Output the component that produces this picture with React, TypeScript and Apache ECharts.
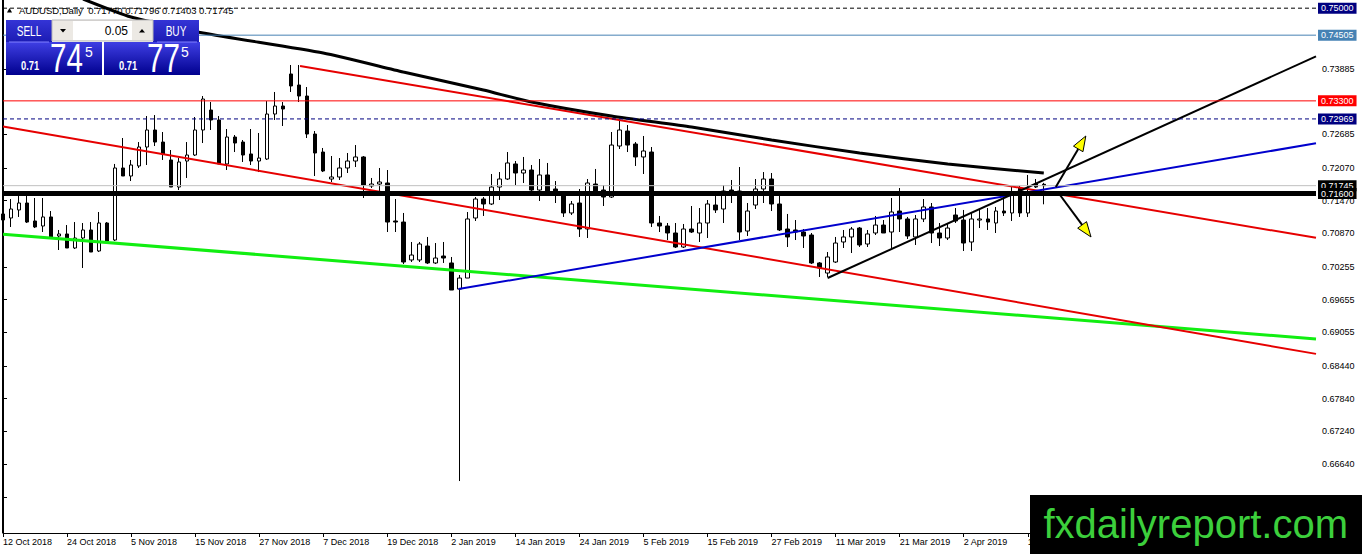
import React, { useEffect, useRef } from 'react';
import * as echarts from 'echarts';

// ---------- categories ----------
const FIRST_DAY = [2018, 9, 12];
const HOLIDAYS = ['2018-12-25', '2019-01-01'];
const TOTAL_SLOTS = 165;
const MONTHS = ['Jan', 'Feb', 'Mar', 'Apr', 'May', 'Jun', 'Jul', 'Aug', 'Sep', 'Oct', 'Nov', 'Dec'];

// ---------- daily candles (AUDUSD) ----------
const OPEN = [
  0.71226, 0.71152, 0.71299, 0.71427, 0.71097, 0.71005, 0.71171, 0.70822, 0.70859, 0.70602,
  0.70785, 0.70932, 0.70547, 0.71060, 0.70748, 0.72069, 0.71922, 0.72106, 0.72454, 0.72766,
  0.72545, 0.72216, 0.71720, 0.72197, 0.72307, 0.72766, 0.73132, 0.72949, 0.72143, 0.72637,
  0.72545, 0.72326, 0.72197, 0.72234, 0.73059, 0.73206, 0.73793, 0.73591, 0.73389, 0.72692,
  0.72362, 0.71867, 0.71904, 0.72069, 0.72197, 0.72271, 0.71739, 0.71775, 0.71794, 0.71097,
  0.71078, 0.70382, 0.70382, 0.70638, 0.70327, 0.70455, 0.70327, 0.69849, 0.70051, 0.71152,
  0.71500, 0.71409, 0.71720, 0.71867, 0.72143, 0.71977, 0.72032, 0.71665, 0.71941, 0.71684,
  0.71592, 0.71244, 0.71427, 0.70950, 0.71775, 0.71665, 0.71537, 0.72472, 0.72747, 0.72509,
  0.72271, 0.72362, 0.71060, 0.71005, 0.70877, 0.70620, 0.70950, 0.70877, 0.71060, 0.71390,
  0.71317, 0.71665, 0.71647, 0.70913, 0.71390, 0.71684, 0.71867, 0.71409, 0.70950, 0.70932,
  0.70895, 0.70840, 0.70327, 0.70143, 0.70345, 0.70712, 0.70804, 0.70968, 0.70675, 0.70877,
  0.71023, 0.70895, 0.71280, 0.71134, 0.70804, 0.71134, 0.71354, 0.70877, 0.70785, 0.71207,
  0.71115, 0.70712, 0.71115, 0.71134, 0.71060, 0.71280, 0.71244, 0.71702, 0.71244, 0.71775,
  0.71770,
];
const CLOSE = [
  0.71115, 0.71317, 0.71427, 0.71078, 0.70987, 0.71171, 0.70804, 0.70859, 0.70602, 0.70785,
  0.70932, 0.70528, 0.71060, 0.70730, 0.72069, 0.71922, 0.72124, 0.72454, 0.72766, 0.72545,
  0.72326, 0.71720, 0.72179, 0.72307, 0.72766, 0.73334, 0.72949, 0.72143, 0.72637, 0.72527,
  0.72307, 0.72197, 0.72252, 0.73059, 0.73206, 0.73151, 0.73573, 0.73389, 0.72692, 0.72344,
  0.72014, 0.71904, 0.72069, 0.72197, 0.72271, 0.71757, 0.71775, 0.71812, 0.71078, 0.71078,
  0.70345, 0.70473, 0.70675, 0.70327, 0.70418, 0.70418, 0.69831, 0.70051, 0.71134, 0.71500,
  0.71409, 0.71720, 0.71867, 0.72161, 0.71977, 0.72032, 0.71665, 0.71941, 0.71647, 0.71629,
  0.71244, 0.71409, 0.70950, 0.71794, 0.71629, 0.71537, 0.72490, 0.72766, 0.72490, 0.72271,
  0.72381, 0.71060, 0.71005, 0.70877, 0.70620, 0.70950, 0.70895, 0.71060, 0.71409, 0.71299,
  0.71647, 0.71629, 0.70895, 0.71280, 0.71684, 0.71867, 0.71409, 0.70932, 0.70804, 0.70895,
  0.70822, 0.70327, 0.70235, 0.70437, 0.70693, 0.70804, 0.70950, 0.70657, 0.70859, 0.71023,
  0.70877, 0.71262, 0.71134, 0.70822, 0.71134, 0.71354, 0.70877, 0.70785, 0.70968, 0.71097,
  0.70693, 0.71134, 0.71134, 0.71078, 0.71280, 0.71244, 0.71629, 0.71244, 0.71629, 0.71720,
  0.71745,
];
const LOW = [
  0.71023, 0.70987, 0.71171, 0.71060, 0.70968, 0.70895, 0.70804, 0.70565, 0.70602, 0.70583,
  0.70235, 0.70528, 0.70528, 0.70730, 0.70730, 0.71922, 0.71830, 0.72069, 0.72124, 0.72472,
  0.72216, 0.71720, 0.71665, 0.71886, 0.72289, 0.72527, 0.72766, 0.72143, 0.72032, 0.72362,
  0.72179, 0.72124, 0.71995, 0.72216, 0.72949, 0.72839, 0.73463, 0.73279, 0.72619, 0.71922,
  0.71995, 0.71812, 0.71849, 0.71977, 0.72087, 0.71519, 0.71702, 0.71629, 0.70895, 0.70895,
  0.70308, 0.70345, 0.70345, 0.70308, 0.70308, 0.70327, 0.69831, 0.66328, 0.70051, 0.71097,
  0.71189, 0.71390, 0.71482, 0.71849, 0.71757, 0.71794, 0.71647, 0.71464, 0.71647, 0.71427,
  0.71171, 0.71207, 0.70804, 0.70785, 0.71610, 0.71372, 0.71519, 0.72417, 0.72362, 0.72106,
  0.71959, 0.70987, 0.70895, 0.70748, 0.70602, 0.70602, 0.70877, 0.70712, 0.70785, 0.71244,
  0.71060, 0.71427, 0.70748, 0.70822, 0.71317, 0.71427, 0.71280, 0.70913, 0.70620, 0.70748,
  0.70602, 0.70308, 0.70070, 0.70070, 0.70327, 0.70602, 0.70510, 0.70620, 0.70620, 0.70840,
  0.70877, 0.70602, 0.70895, 0.70767, 0.70657, 0.71078, 0.70693, 0.70638, 0.70748, 0.71060,
  0.70547, 0.70547, 0.70968, 0.70932, 0.70877, 0.71189, 0.71097, 0.71171, 0.71171, 0.71702,
  0.71403,
];
const HIGH = [
  0.71390, 0.71500, 0.71573, 0.71573, 0.71519, 0.71519, 0.71280, 0.70932, 0.71023, 0.71078,
  0.71060, 0.71078, 0.71262, 0.71078, 0.72143, 0.72619, 0.72216, 0.72545, 0.73022, 0.73040,
  0.72729, 0.72399, 0.72252, 0.72545, 0.73004, 0.73389, 0.73279, 0.73022, 0.72784, 0.72674,
  0.72582, 0.72784, 0.72711, 0.73297, 0.73463, 0.73279, 0.73958, 0.73958, 0.73554, 0.72747,
  0.72436, 0.72289, 0.72252, 0.72344, 0.72490, 0.72289, 0.71886, 0.72069, 0.72032, 0.71500,
  0.71244, 0.70712, 0.70712, 0.70804, 0.70693, 0.70712, 0.70437, 0.70107, 0.71262, 0.71537,
  0.71537, 0.71959, 0.71995, 0.72362, 0.72197, 0.72271, 0.72124, 0.72234, 0.72161, 0.71830,
  0.71610, 0.71464, 0.71684, 0.71867, 0.72051, 0.71757, 0.72729, 0.72949, 0.72857, 0.72545,
  0.72656, 0.72454, 0.71189, 0.71060, 0.71060, 0.71042, 0.71372, 0.71335, 0.71482, 0.71555,
  0.71757, 0.71849, 0.72087, 0.71427, 0.71867, 0.71995, 0.71977, 0.71610, 0.71226, 0.71115,
  0.70950, 0.70877, 0.70345, 0.70528, 0.70804, 0.70932, 0.70987, 0.70987, 0.70932, 0.71189,
  0.71115, 0.71519, 0.71702, 0.71171, 0.71207, 0.71500, 0.71427, 0.71060, 0.71060, 0.71335,
  0.71299, 0.71262, 0.71299, 0.71335, 0.71354, 0.71555, 0.71739, 0.71739, 0.71941, 0.71867,
  0.71796,
];

const ASK = 0.71775;

// ---------- price scale ----------
const Y_MIN = 0.65375;
const Y_MAX = 0.7515;
const Y_LABELS = [0.73885, 0.72685, 0.7207, 0.7147, 0.7087, 0.70255, 0.69655, 0.69055, 0.6844, 0.6784, 0.6724, 0.6664, 0.66025];

// horizontal levels: 0.75 dashed, 0.74505, 0.733, 0.72969 dashed, bid, 0.716 support
const LEVEL_PRICES = [0.75, 0.74505, 0.733, 0.72969, 0.71745, 0.716];

// ---------- drawn objects: [bar index, price] ----------
const MA_POINTS = [
  [10, 0.75168], [16, 0.74838], [25, 0.74545], [40, 0.74178], [50, 0.7383], [60, 0.73499],
  [66, 0.73279], [76, 0.73022], [86, 0.72821], [96, 0.72582], [107, 0.72344], [118, 0.72143], [130, 0.71977],
];
const RED_UPPER = [[37.1, 0.7394], [164, 0.70788]];
const RED_LOWER = [[0, 0.7283], [164, 0.6866]];
const GREEN_LINE = [[0, 0.70855], [164, 0.68934]];
const BLUE_LINE = [[56.9, 0.69849], [164, 0.72522]];
const BLACK_TREND = [[103, 0.70051], [164, 0.74116]];
const ARROWS = [
  [131.5, 0.7172, 135.25, 0.72656],
  [131.75, 0.71629, 135.9, 0.70804],
];

const FONT = 'Liberation Sans, Arial, sans-serif';

function buildDates(): string[] {
  const out: string[] = [];
  const d = new Date(Date.UTC(FIRST_DAY[0], FIRST_DAY[1], FIRST_DAY[2]));
  while (out.length < TOTAL_SLOTS) {
    const wd = d.getUTCDay();
    const iso = d.toISOString().slice(0, 10);
    if (wd !== 0 && wd !== 6 && !HOLIDAYS.includes(iso)) {
      out.push(`${d.getUTCDate()} ${MONTHS[d.getUTCMonth()]} ${d.getUTCFullYear()}`);
    }
    d.setUTCDate(d.getUTCDate() + 1);
  }
  return out;
}

function trend(data: number[][], color: string, width: number, z: number, smooth: number | boolean = false) {
  return {
    type: 'line',
    xAxisIndex: 1,
    yAxisIndex: 0,
    data,
    smooth,
    symbol: 'none',
    showSymbol: false,
    silent: true,
    z,
    lineStyle: { color, width },
  };
}

export default function App() {
  const ref = useRef<HTMLDivElement>(null);

  useEffect(() => {
    if (!ref.current) return;
    const chart = echarts.init(ref.current, undefined, { renderer: 'svg' });
    const dates = buildDates();
    const candles = OPEN.map((o, i) => [o, CLOSE[i], LOW[i], HIGH[i]]);
    const last = OPEN.length - 1;
    const bid = CLOSE[last];

    const levelStyles = [
      { color: '#000000', bg: '#000080', type: [4, 3], width: 1 },
      { color: '#4682b4', bg: '#4682b4', type: 'solid', width: 1 },
      { color: '#ff0000', bg: '#ff0000', type: 'solid', width: 1 },
      { color: '#000080', bg: '#000080', type: [4, 3], width: 1 },
      { color: '#c0c0c0', bg: '#000000', type: 'solid', width: 1 },
      { color: '#000000', bg: '#000000', type: 'solid', width: 5 },
    ];

    const levelSeries = LEVEL_PRICES.map((p, i) => ({
      type: 'line',
      xAxisIndex: 1,
      yAxisIndex: 0,
      data: [[0, p], [164, p]],
      symbol: 'none',
      showSymbol: false,
      silent: true,
      z: 6,
      lineStyle: { color: levelStyles[i].color, type: levelStyles[i].type, width: levelStyles[i].width },
      endLabel: {
        show: true,
        distance: 2,
        formatter: () => p.toFixed(5),
        color: '#fff',
        backgroundColor: levelStyles[i].bg,
        padding: [1, 3, 1, 3],
        fontSize: 9,
        fontFamily: FONT,
      },
    }));

    const priceParts = (v: number) => {
      const s = v.toFixed(5);
      return { big: s.slice(0, 4), mid: s.slice(4, 6), small: s.slice(6) };
    };
    const sp = priceParts(bid);
    const bp = priceParts(ASK);

    const boxGrad = () =>
      new echarts.graphic.LinearGradient(0, 0, 0, 1, [
        { offset: 0, color: '#3f3fe4' },
        { offset: 1, color: '#00008e' },
      ]);
    const btnGrad = () =>
      new echarts.graphic.LinearGradient(0, 0, 0, 1, [
        { offset: 0, color: '#3434d6' },
        { offset: 1, color: '#1c1cb4' },
      ]);

    const txt = (x: number, y: number, text: string, font: string, fill: string, align = 'left', scaleX = 1) => ({
      type: 'text',
      x,
      y,
      scaleX,
      z: 70,
      style: { text, font, fill, textAlign: align, align, textVerticalAlign: 'middle', verticalAlign: 'middle' },
    });

    const graphic: any[] = [
      { type: 'line', shape: { x1: 2.5, y1: 0, x2: 2.5, y2: 533 }, style: { stroke: '#000', lineWidth: 1 }, z: 50 },
      // title
      { type: 'polygon', shape: { points: [[7, 12.5], [12, 12.5], [9.5, 8]] }, style: { fill: '#000' }, z: 60 },
      txt(19, 10.5, `AUDUSD,Daily  ${OPEN[last].toFixed(5)} ${HIGH[last].toFixed(5)} ${LOW[last].toFixed(5)} ${CLOSE[last].toFixed(5)}`, `9.5px ${FONT}`, '#000'),
      // SELL / BUY buttons
      { type: 'rect', shape: { x: 6, y: 20, width: 46, height: 22 }, style: { fill: btnGrad() }, z: 60 },
      { type: 'rect', shape: { x: 153, y: 20, width: 46, height: 22 }, style: { fill: btnGrad() }, z: 60 },
      txt(29, 31, 'SELL', `14px ${FONT}`, '#fff', 'center', 0.72),
      txt(176, 31, 'BUY', `14px ${FONT}`, '#fff', 'center', 0.72),
      // lot widget
      { type: 'rect', shape: { x: 52, y: 20, width: 101, height: 21 }, style: { fill: '#ece9e4', stroke: '#b8b8b8', lineWidth: 1 }, z: 60 },
      { type: 'rect', shape: { x: 73, y: 21, width: 59, height: 19 }, style: { fill: '#ffffff' }, z: 61 },
      { type: 'polygon', shape: { points: [[60, 29], [66, 29], [63, 32.5]] }, style: { fill: '#000' }, z: 62 },
      { type: 'polygon', shape: { points: [[139, 32.5], [145, 32.5], [142, 29]] }, style: { fill: '#000' }, z: 62 },
      txt(128, 31, '0.05', `12px ${FONT}`, '#000', 'right'),
      // price boxes
      { type: 'rect', shape: { x: 6, y: 42, width: 96, height: 33 }, style: { fill: boxGrad() }, z: 60 },
      { type: 'rect', shape: { x: 104, y: 42, width: 96, height: 33 }, style: { fill: boxGrad() }, z: 60 },
      { type: 'line', shape: { x1: 9, y1: 42, x2: 49, y2: 42 }, style: { stroke: '#8080ff', lineWidth: 1 }, z: 61 },
      { type: 'line', shape: { x1: 157, y1: 42, x2: 197, y2: 42 }, style: { stroke: '#8080ff', lineWidth: 1 }, z: 61 },
      txt(21, 66, sp.big, `bold 12px ${FONT}`, '#fff', 'left', 0.78),
      txt(50, 58, sp.mid, `40px ${FONT}`, '#fff', 'left', 0.74),
      txt(85, 52, sp.small, `14px ${FONT}`, '#fff'),
      txt(119, 66, bp.big, `bold 12px ${FONT}`, '#fff', 'left', 0.78),
      txt(147, 58, bp.mid, `40px ${FONT}`, '#fff', 'left', 0.74),
      txt(181, 52, bp.small, `14px ${FONT}`, '#fff'),
      // logo
      { type: 'rect', shape: { x: 1030, y: 495, width: 332, height: 59 }, style: { fill: '#000' }, z: 80 },
      {
        type: 'text',
        x: 1348,
        y: 524,
        z: 81,
        style: { text: 'fxdailyreport.com', font: `40px ${FONT}`, fill: '#3ccf3c', textAlign: 'right', align: 'right', textVerticalAlign: 'middle', verticalAlign: 'middle' },
      },
    ];

    chart.setOption({
      animation: false,
      backgroundColor: '#ffffff',
      grid: { left: 3, top: 0, width: 1313, height: 533, containLabel: false },
      xAxis: [
        {
          type: 'category',
          data: dates,
          boundaryGap: false,
          axisLine: { show: true, lineStyle: { color: '#000', width: 1 } },
          axisTick: { show: true, interval: 7, length: 4, lineStyle: { color: '#000' } },
          axisLabel: {
            interval: 7,
            align: 'left',
            margin: 4,
            fontSize: 9,
            fontFamily: FONT,
            color: '#000',
            formatter: (v: string, idx: number) => (idx <= last ? v : ''),
          },
          splitLine: { show: false },
        },
        { type: 'value', min: 0, max: 164, show: false },
      ],
      yAxis: [
        {
          type: 'value',
          position: 'right',
          min: Y_MIN,
          max: Y_MAX,
          scale: true,
          axisLine: { show: true, lineStyle: { color: '#000', width: 1 } },
          axisTick: { show: true, length: 4, customValues: Y_LABELS, lineStyle: { color: '#000' } },
          axisLabel: {
            customValues: Y_LABELS,
            formatter: (v: number) => v.toFixed(5),
            margin: 6,
            fontSize: 9,
            fontFamily: FONT,
            color: '#000',
          },
          splitLine: { show: false },
        },
      ],
      graphic,
      series: [
        {
          type: 'candlestick',
          xAxisIndex: 0,
          yAxisIndex: 0,
          data: candles,
          barWidth: 4,
          z: 2,
          silent: true,
          itemStyle: { color: '#ffffff', color0: '#000000', borderColor: '#000000', borderColor0: '#000000', borderWidth: 1 },
        },
        trend(GREEN_LINE, '#11ee11', 3, 4),
        trend(RED_LOWER, '#e60000', 2, 4),
        trend(RED_UPPER, '#e60000', 2, 4),
        trend(BLUE_LINE, '#0000cd', 2, 4),
        trend(BLACK_TREND, '#000000', 2, 4),
        trend(MA_POINTS, '#000000', 3, 5, 0.2),
        ...levelSeries,
        {
          type: 'custom',
          coordinateSystem: 'cartesian2d',
          xAxisIndex: 1,
          yAxisIndex: 0,
          data: ARROWS,
          encode: { x: [0, 2], y: [1, 3] },
          z: 10,
          silent: true,
          clip: false,
          renderItem: (params: any, api: any) => {
            const a = api.coord([api.value(0), api.value(1)]);
            const b = api.coord([api.value(2), api.value(3)]);
            const dx = b[0] - a[0];
            const dy = b[1] - a[1];
            const len = Math.hypot(dx, dy) || 1;
            const ux = dx / len;
            const uy = dy / len;
            const hl = 15;
            const hw = 5.5;
            const cx = b[0] - ux * hl;
            const cy = b[1] - uy * hl;
            return {
              type: 'group',
              children: [
                { type: 'line', shape: { x1: a[0], y1: a[1], x2: cx, y2: cy }, style: { stroke: '#000', lineWidth: 2 } },
                {
                  type: 'polygon',
                  shape: { points: [[b[0], b[1]], [cx - uy * hw, cy + ux * hw], [cx + uy * hw, cy - ux * hw]] },
                  style: { fill: '#ffff00', stroke: '#000', lineWidth: 1 },
                },
              ],
            };
          },
        },
      ],
    });

    return () => chart.dispose();
  }, []);

  return (
    <div
      ref={ref}
      style={{ position: 'fixed', left: 0, top: 0, width: 1362, height: 554, background: '#fff' }}
    />
  );
}
